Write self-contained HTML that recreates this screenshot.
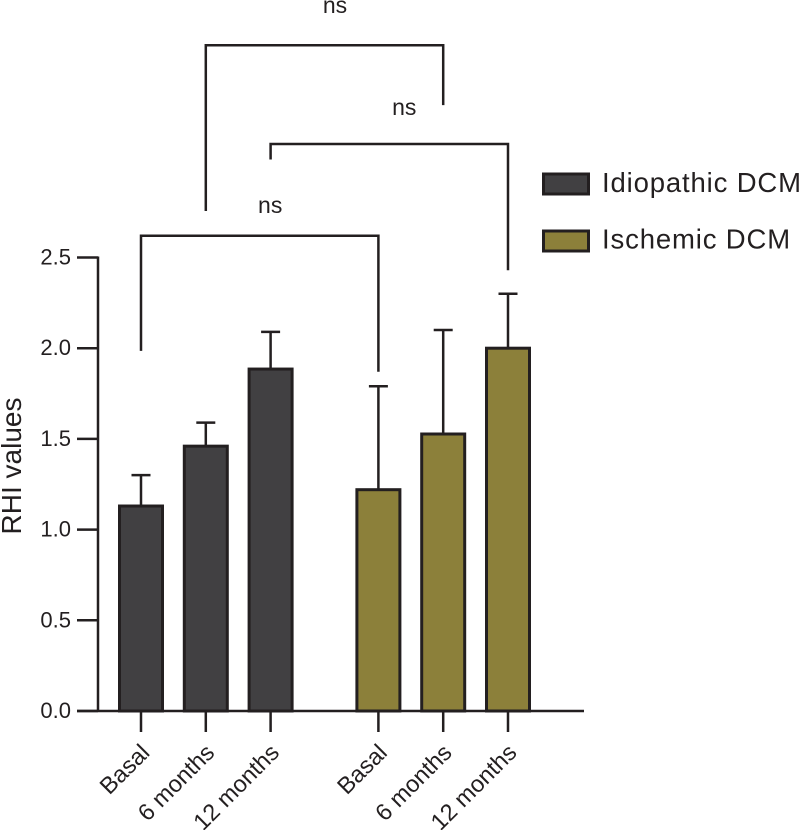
<!DOCTYPE html>
<html>
<head>
<meta charset="utf-8">
<title>RHI values chart</title>
<style>
html,body{margin:0;padding:0;background:#fff;width:800px;height:830px;overflow:hidden}
svg{display:block}
text{font-family:"Liberation Sans",sans-serif;fill:#231f20}
</style>
</head>
<body>
<svg id="chart" xmlns="http://www.w3.org/2000/svg" width="800" height="830" viewBox="0 0 800 830">
  <g>
    <rect x="543.5" y="174" width="45" height="20" fill="#414042" stroke="#231f20" stroke-width="3"/>
    <text x="602" y="192" font-size="27.5" letter-spacing="0.85">Idiopathic DCM</text>
    <rect x="543.5" y="231" width="45" height="20" fill="#8c803a" stroke="#231f20" stroke-width="3"/>
    <text x="602" y="248.5" font-size="27.5" letter-spacing="0.85">Ischemic DCM</text>
  </g>
  <text transform="translate(21,466) rotate(-90)" text-anchor="middle" font-size="28">RHI values</text>
</svg>
<script>
var categories = ['Basal', '6 months', '12 months', 'Basal', '6 months', '12 months'];
var groups = ['idiopathic', 'idiopathic', 'idiopathic', 'ischemic', 'ischemic', 'ischemic'];
var means = [1.13, 1.46, 1.885, 1.22, 1.527, 2.0];
var errorTops = [1.30, 1.59, 2.09, 1.79, 2.10, 2.30];
var yTicks = [0, 0.5, 1.0, 1.5, 2.0, 2.5];
var bracketFrom = [0, 2, 1];
var bracketTo = [3, 5, 4];
var bracketTop = [2.62, 3.126, 3.67];
var bracketLeftEnd = [1.985, 3.04, 2.756];
var bracketRightEnd = [1.87, 2.43, 3.34];
var bracketLabels = ['ns', 'ns', 'ns'];
var bracketLabelLevel = [2.745, 3.286, 3.848];

var svg = document.getElementById('chart');
var NS = 'http://www.w3.org/2000/svg';
var INK = '#231f20';
var FILLS = { idiopathic: '#414042', ischemic: '#8c803a' };

function y(v) { return 711 - v * 181.4; }
function x(i) { return 141 + i * 64.8 + (i >= 3 ? 43 : 0); }

function make(tag, attrs, parent) {
  var el = document.createElementNS(NS, tag);
  for (var k in attrs) el.setAttribute(k, attrs[k]);
  (parent || svg).appendChild(el);
  return el;
}
function line(x1, y1, x2, y2, parent, w) {
  return make('line', { x1: x1, y1: y1, x2: x2, y2: y2, stroke: INK, 'stroke-width': w || 2.5 }, parent);
}

// Bars and error bars
means.forEach(function (m, i) {
  var g = make('g', {});
  
  
  var cx = x(i);
  var stem = line(cx, y(m), cx, y(errorTops[i]), g);
  
  
  var cap = line(cx - 9.5, y(errorTops[i]), cx + 9.5, y(errorTops[i]), g);
  
  
  var bar = make('rect', { x: cx - 21.5, y: y(m), width: 43, height: y(0) - y(m), fill: FILLS[groups[i]], stroke: INK, 'stroke-width': 3 }, g);
  
  
});

// Y axis
var yAxis = make('g', {});


var yLine = line(98, y(2.5) - 1, 98, y(0), yAxis);


yTicks.forEach(function (t) {
  var tk = line(77, y(t), 98, y(t), yAxis);
  
  
  var lb = make('text', { x: 71, y: y(t) + 7, 'text-anchor': 'end', 'font-size': 22 }, yAxis);
  lb.textContent = t.toFixed(1);
  
  
});

// X axis
var xAxis = make('g', {});


var xLine = line(77, y(0), 584, y(0), xAxis);


categories.forEach(function (c, i) {
  var cx = x(i);
  var tk = line(cx, y(0), cx, 732, xAxis);
  
  
  var lb = make('text', { 'text-anchor': 'end', 'font-size': 23.5, transform: 'translate(' + (cx + 10) + ',754) rotate(-45)' }, xAxis);
  lb.textContent = c;
  
  
});

// Significance brackets
bracketFrom.forEach(function (a, i) {
  var g = make('g', {});
  
  
  var xa = x(a), xb = x(bracketTo[i]);
  var p = make('path', {
    d: 'M' + xa + ' ' + y(bracketLeftEnd[i]) + 'V' + y(bracketTop[i]) + 'H' + xb + 'V' + y(bracketRightEnd[i]),
    fill: 'none', stroke: INK, 'stroke-width': 2.5
  }, g);
  
  
  var t = make('text', { x: (xa + xb) / 2 + (i === 1 ? 15 : 10.5), y: y(bracketLabelLevel[i]), 'text-anchor': 'middle', 'font-size': 23 }, g);
  t.textContent = bracketLabels[i];
  
  
});
</script>
</body>
</html>
